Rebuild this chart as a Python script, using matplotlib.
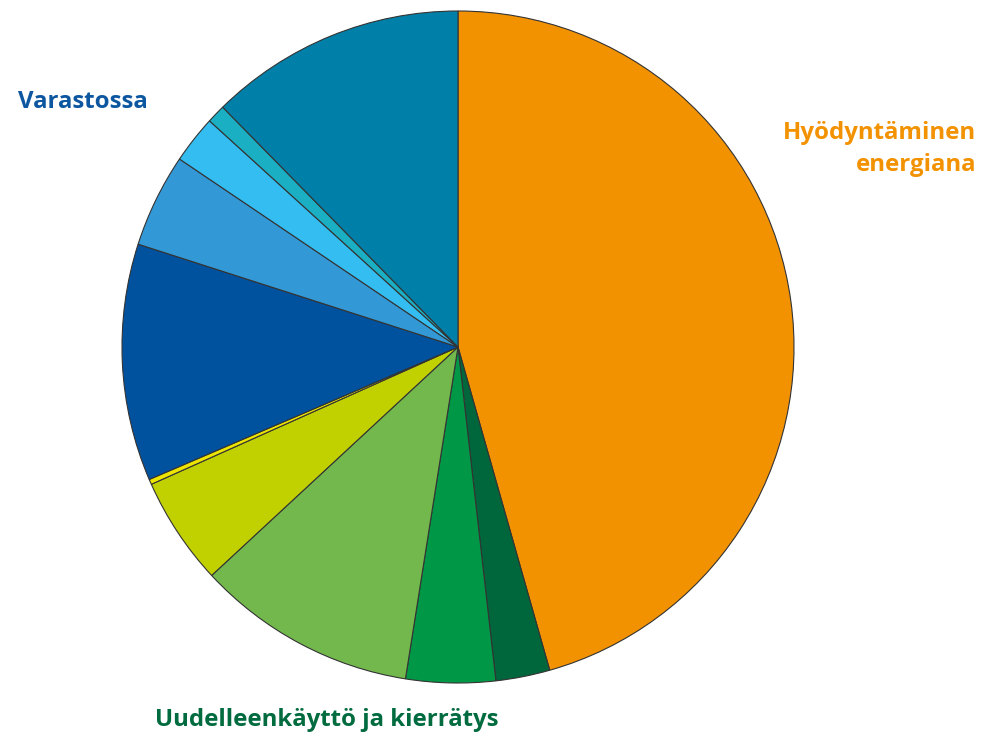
import matplotlib.pyplot as plt

# Slice shares (percent), clockwise from 12 o'clock
labels = ['Hyödyntäminen energiana', 'tumma vihreä', 'vihreä', 'vaaleanvihreä',
          'kelta-vihreä', 'keltainen', 'tummansininen', 'sininen',
          'vaaleansininen', 'turkoosi', 'petrooli']
shares = [45.6, 2.6, 4.3, 10.6, 5.2, 0.25, 11.4, 4.5, 2.3, 0.9, 12.35]
colors = ['#F39200', '#00663C', '#009846', '#72B84C', '#C1D100', '#EDE500',
          '#00519E', '#3399D6', '#33BDF0', '#1BAFC4', '#0080A8']

W, H = 981, 735
fig = plt.figure(figsize=(W / 100, H / 100), dpi=100)

# pie centre (458, 347) px, radius 336 px
cx, cy, r = 458, 347, 336
ax = fig.add_axes([(cx - r) / W, (H - cy - r) / H, 2 * r / W, 2 * r / H])
ax.pie(shares, colors=colors, startangle=90, counterclock=False, radius=1,
       wedgeprops=dict(edgecolor='#333333', linewidth=0.8))
ax.set_xlim(-1, 1)
ax.set_ylim(-1, 1)
ax.set_aspect('equal')
ax.axis('off')

font = 'Open Sans'
fig.text(18 / W, 1 - 102 / H, 'Varastossa', color='#0D56A0', fontsize=17.3,
         fontweight='bold', family=font, ha='left', va='center')
fig.text(976 / W, 1 - 149 / H, 'Hyödyntäminen\nenergiana', color='#F39200',
         fontsize=17.3, fontweight='bold', family=font, ha='right', va='center',
         multialignment='right', linespacing=1.4)
fig.text(155 / W, 1 - 720 / H, 'Uudelleenkäyttö ja kierrätys', color='#006B3F',
         fontsize=17.3, fontweight='bold', family=font, ha='left', va='center')

fig.savefig('out.png', dpi=100)
